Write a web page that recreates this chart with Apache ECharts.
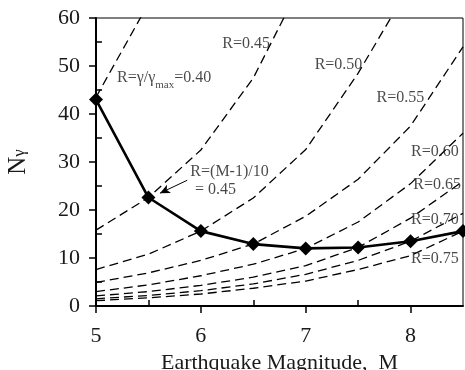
<!DOCTYPE html>
<html>
<head>
<meta charset="utf-8">
<script src="https://cdn.jsdelivr.net/npm/echarts@6/dist/echarts.min.js"></script>
<style>
html,body{margin:0;padding:0;background:#fff;}
#chart{width:465px;height:370px;}
</style>
</head>
<body>
<div id="chart"></div>
<script>
// ---- data ----
const magnitudes = [5, 5.5, 6, 6.5, 7, 7.5, 8, 8.5];
const nGamma = [43, 22.6, 15.6, 12.9, 12.0, 12.2, 13.5, 15.6];
const r040 = [43.5, 63, null, null, null, null, null, null];
const r045 = [15.8, 22.6, 32.5, 47.5, 69, null, null, null];
const r050 = [7.6, 10.8, 15.6, 22.5, 32.6, 48.5, 67, null];
const r055 = [4.9, 6.9, 9.5, 12.9, 18.7, 26.4, 37.5, 54];
const r060 = [3.0, 4.4, 6.3, 8.7, 12.0, 17.5, 25.5, 36];
const r065 = [2.1, 3.0, 4.3, 6.0, 8.4, 12.2, 18.3, 26];
const r070 = [1.5, 2.2, 3.2, 4.6, 6.6, 9.5, 13.5, 19.3];
const r075 = [1.1, 1.7, 2.5, 3.7, 5.2, 7.6, 10.5, 15.6];
const xTicks = [5, 6, 7, 8];
const yTicks = [0, 10, 20, 30, 40, 50, 60];
const curveNames = ['R=0.40','R=0.45','R=0.50','R=0.55','R=0.60','R=0.65','R=0.70','R=0.75'];
const curves = [r040, r045, r050, r055, r060, r065, r070, r075];

// ---- annotation text ----
const curveLabels = ['R=0.45','R=0.50','R=0.55','R=0.60','R=0.65','R=0.70','R=0.75'];

const FONT = '"Liberation Serif", "DejaVu Serif", serif';
const INK = '#1a1a1a';

function pairs(arr) {
  return magnitudes.map((m, i) => [m, arr[i]]).filter(p => p[1] !== null);
}

// label anchor points (layout only)
const curveLabelPos = [[6.66, 54.7],[7.54, 50.2],[8.13, 43.3],[8.46, 32.1],[8.48, 25.2],[8.46, 17.9],[8.46, 9.9]];

const annData = curveLabels.map((t, i) => ({
  value: curveLabelPos[i],
  label: { show: true, position: 'left', distance: 0, formatter: t,
    fontFamily: FONT, fontSize: 16, color: INK }
}));
annData.push({
  value: [5.2, 47.4],
  label: { show: true, position: 'right', distance: 0,
    formatter: '{a|R=γ/γ}{s|max}{a|=0.40}',
    rich: {
      a: { fontFamily: FONT, fontSize: 16, color: INK, lineHeight: 18, verticalAlign: 'top' },
      s: { fontFamily: FONT, fontSize: 11, color: INK, lineHeight: 11, padding: [10,0,0,0], verticalAlign: 'top' }
    }
  }
});
annData.push({
  value: [5.9, 28.0],
  label: { show: true, position: 'right', distance: 0, formatter: 'R=(M-1)/10',
    fontFamily: FONT, fontSize: 16, color: INK }
});
annData.push({
  value: [5.945, 24.2],
  label: { show: true, position: 'right', distance: 0, formatter: '= 0.45',
    fontFamily: FONT, fontSize: 16, color: INK }
});

const series = curves.map((c, i) => ({
  name: curveNames[i],
  type: 'line',
  data: pairs(c),
  showSymbol: false,
  symbol: 'none',
  clip: true,
  lineStyle: { color: '#000', width: 1.3, type: [9, 5] },
  z: 2,
  silent: true
}));

series.push({
  name: 'Ngamma',
  type: 'line',
  data: pairs(nGamma),
  symbol: 'diamond',
  symbolSize: 14,
  itemStyle: { color: '#000' },
  lineStyle: { color: '#000', width: 2.6 },
  z: 5,
  markLine: {
    silent: true,
    symbol: ['none', 'arrow'],
    symbolSize: [7, 10],
    label: { show: false },
    lineStyle: { color: '#000', width: 1, type: 'solid' },
    data: [[{ coord: [5.87, 26.2] }, { coord: [5.61, 23.5] }]]
  }
});

series.push({
  name: 'annotations',
  type: 'scatter',
  symbolSize: 0,
  data: annData,
  z: 6,
  silent: true
});

const chart = echarts.init(document.getElementById('chart'), null, { renderer: 'canvas' });
chart.setOption({
  animation: false,
  backgroundColor: '#fff',
  grid: { left: 96, right: 2, top: 18, bottom: 64, containLabel: false, outerBoundsMode: 'none',
    show: true, borderColor: '#000', borderWidth: 1, backgroundColor: 'transparent' },
  xAxis: [{
    type: 'value', min: 5, max: 8.5, interval: 1, position: 'bottom',
    name: 'Earthquake Magnitude,  M', nameLocation: 'middle', nameGap: 44,
    nameTextStyle: { fontFamily: FONT, fontSize: 22, color: INK },
    axisLine: { show: true, lineStyle: { color: '#000', width: 2 } },
    axisTick: { show: true, length: 7, lineStyle: { color: '#000', width: 1.5 }, customValues: xTicks },
    axisLabel: { fontFamily: FONT, fontSize: 22, color: INK, margin: 19, customValues: xTicks },
    splitLine: { show: false }
  }, {
    type: 'value', min: 5, max: 8.5, position: 'bottom', gridIndex: 0,
    axisLine: { show: false },
    axisTick: { show: true, inside: true, length: 6, lineStyle: { color: '#000', width: 1.5 }, customValues: [5.5, 6.5, 7.5] },
    axisLabel: { show: false },
    splitLine: { show: false }
  }],
  yAxis: [{
    type: 'value', min: 0, max: 60, interval: 10, position: 'left',
    name: '{n|N}{s|γ}', nameLocation: 'middle', nameGap: 64, nameRotate: 90,
    nameTextStyle: {
      rich: {
        n: { fontFamily: FONT, fontSize: 25, color: INK, lineHeight: 26, verticalAlign: 'top' },
        s: { fontFamily: FONT, fontSize: 17, color: INK, lineHeight: 17, padding: [5,0,0,0], verticalAlign: 'top' }
      }
    },
    axisLine: { show: true, lineStyle: { color: '#000', width: 2 } },
    axisTick: { show: true, length: 7, lineStyle: { color: '#000', width: 1.5 }, customValues: yTicks },
    axisLabel: { fontFamily: FONT, fontSize: 22, color: INK, margin: 16, customValues: yTicks },
    splitLine: { show: false }
  }, {
    type: 'value', min: 0, max: 60, position: 'left', gridIndex: 0,
    axisLine: { show: false },
    axisTick: { show: true, inside: true, length: 6, lineStyle: { color: '#000', width: 1.5 }, customValues: [5, 15, 25, 35, 45, 55] },
    axisLabel: { show: false },
    splitLine: { show: false }
  }],
  series: series
});
</script>
</body>
</html>
